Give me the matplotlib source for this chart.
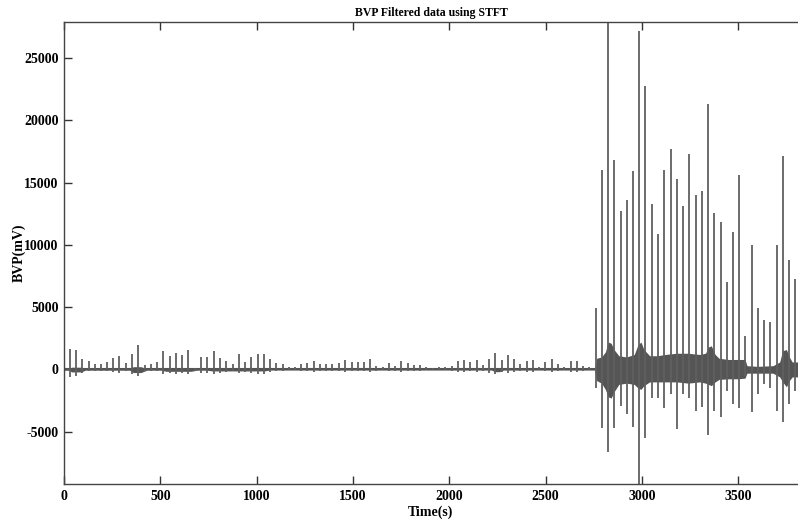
import matplotlib
matplotlib.use("Agg")
import matplotlib.pyplot as plt
import numpy as np

# spike times (s), one per beat
spike_t = [29, 64, 95, 128, 159, 192, 223, 256, 287, 320, 353, 386, 419, 451, 484, 515, 549, 580, 612, 645, 678,
           711, 744, 777, 810, 842, 875, 908, 939, 972, 1005, 1036, 1069, 1102, 1135, 1166, 1199, 1231, 1262, 1296,
           1328, 1361, 1392,
           1427, 1460, 1493, 1524, 1557, 1589, 1621, 1654, 1687, 1718, 1750, 1784, 1816, 1849, 1880, 1913, 1946,
           1979, 2012, 2045, 2076, 2108,
           2142, 2174, 2207, 2238, 2271, 2304, 2335, 2368, 2401, 2434, 2467, 2498, 2531, 2564, 2597, 2630, 2661,
           2694, 2726,
           2759, 2792, 2825, 2856, 2889, 2920, 2953, 2986, 3017, 3050, 3082, 3115, 3149, 3180, 3212, 3245, 3278,
           3311, 3344, 3375, 3408, 3439, 3472, 3504, 3535, 3569, 3601, 3634, 3667, 3700, 3733, 3764, 3797]

# spike peaks (mV)
spike_hi = [1610, 1550, 800, 640, 400, 460, 590, 940, 1100, 510, 1260, 1930, 320, 460, 590, 1450, 1050, 1310,
            1130, 1530, 150,
            960, 1020, 1470, 940, 640, 460, 1210, 590, 1020, 1260, 1260, 860, 510, 400, 160, 210, 460, 510, 670,
            460, 430, 400,
            510, 720, 590, 560, 560, 800, 240, 190, 480, 240, 640, 480, 380, 380, 210, 130, 160, 190, 290, 640,
            750, 590,
            720, 380, 860, 1310, 780, 1130, 800, 400, 640, 720, 190, 590, 860, 460, 160, 640, 640, 270, 160,
            4960, 16000, 27900, 16800, 12700, 13600, 15900, 27200, 22800, 13300, 10900, 16000, 17700, 15300,
            13100, 17300, 14000, 14300, 21300, 12600, 11800, 7000, 11000, 15600, 2650, 10000, 4900, 4000, 3800,
            10000, 17100, 8800, 7300]

# spike troughs (mV)
spike_lo = [-600, -500, -250, -150, -100, -100, -150, -200, -250, -150, -400, -500, -150, -100, -150, -350,
            -300, -350, -300, -400, -100,
            -250, -300, -350, -250, -200, -150, -300, -200, -300, -350, -350, -200, -150, -100, -50, -50, -150,
            -150, -200, -150, -150, -150,
            -150, -200, -150, -150, -150, -200, -100, -50, -150, -100, -200, -150, -100, -100, -50, -50, -50,
            -50, -100, -200, -200, -150,
            -200, -100, -250, -350, -200, -300, -200, -100, -200, -200, -50, -150, -200, -150, -50, -200, -200,
            -100, -50,
            -1500, -4700, -6600, -4700, -2900, -3600, -4600, -9200, -5500, -2300, -2300, -3100, -2000, -4800,
            -2000, -2300, -3300, -3000, -5300, -3300, -3800, -1700, -2800, -3100, -500, -3400, -2000, -1200,
            -1500, -3300, -4200, -2800, -1700]

# envelope of the background noise (s, mV)
env_t = [0, 25, 40, 90, 110, 340, 360, 400, 430, 505, 530, 660, 690, 740, 770, 1040, 1070, 2220, 2235, 2260,
         2280, 2755, 2765, 2790, 2810, 2825, 2840, 2855, 2880, 2920, 2960, 2980, 2995, 3010, 3040, 3080, 3120,
         3180, 3240, 3300, 3330, 3345, 3360, 3380, 3400, 3450, 3500, 3535, 3545, 3600, 3680, 3715, 3730, 3750,
         3765, 3780, 3810]
env_hi = [60, 60, 180, 180, 60, 60, 220, 220, 60, 60, 140, 140, 60, 60, 110, 110, 50, 50, 150, 150,
          50, 50, 900, 1000, 1400, 2200, 2100, 1600, 1100, 1000, 1200, 2000, 2200, 1600, 1100, 1100, 1200,
          1300, 1300, 1200, 1300, 1800, 1900, 1200, 900, 800, 800, 800, 300, 250, 300, 600, 1500, 1600,
          1000, 600, 600]
env_lo = [-60, -60, -200, -200, -60, -60, -250, -250, -60, -60, -150, -150, -60, -60, -120, -120, -50,
          -50, -180, -180, -50, -50, -900, -1100, -1600, -2200, -2300, -1800, -1200, -1100, -1200, -1500,
          -1600, -1300, -1000, -1000, -1000, -1000, -1100, -1000, -1100, -1200, -1300, -1000, -800, -750,
          -750, -700, -300, -300, -300, -600, -1000, -1400, -900, -600, -600]

xticks = [0, 500, 1000, 1500, 2000, 2500, 3000, 3500]
yticks = [-5000, 0, 5000, 10000, 15000, 20000, 25000]

plt.rcParams['font.family'] = ['Liberation Serif', 'DejaVu Serif']
plt.rcParams['font.weight'] = 'bold'
plt.rcParams['axes.unicode_minus'] = False

line_c = '#606060'
band_c = '#555555'

fig = plt.figure(figsize=(7.98, 5.2), dpi=100)
ax = fig.add_axes([0.0802, 0.0692, 0.9198, 0.8885])

ax.fill_between(env_t, env_lo, env_hi, color=band_c, linewidth=0)
ax.plot([0, 3810], [0, 0], color=band_c, lw=1.5)
ax.vlines(spike_t, spike_lo, spike_hi, color=line_c, lw=1.3)

ax.set_xlim(0, 3810)
ax.set_ylim(-9200, 27900)
ax.set_xticks(xticks)
ax.set_yticks(yticks)
ax.tick_params(direction='in', length=5.5, width=1, colors='#333333', labelsize=10,
               top=True, right=False, labelcolor='black')
ax.tick_params(axis='x', pad=4)
ax.tick_params(axis='y', pad=4)
for s in ['left', 'bottom', 'top']:
    ax.spines[s].set_color('#444444')
    ax.spines[s].set_linewidth(1)
ax.spines['right'].set_visible(False)

ax.set_title('BVP Filtered data using STFT', fontsize=8.5, fontweight='bold', pad=4)
ax.set_xlabel('Time(s)', fontsize=10, fontweight='bold')
ax.set_ylabel('BVP(mV)', fontsize=10, fontweight='bold')
ax.xaxis.set_label_coords(0.5, -0.047)
ax.yaxis.set_label_coords(-0.052, 0.5)

fig.savefig('out.png', dpi=100)
